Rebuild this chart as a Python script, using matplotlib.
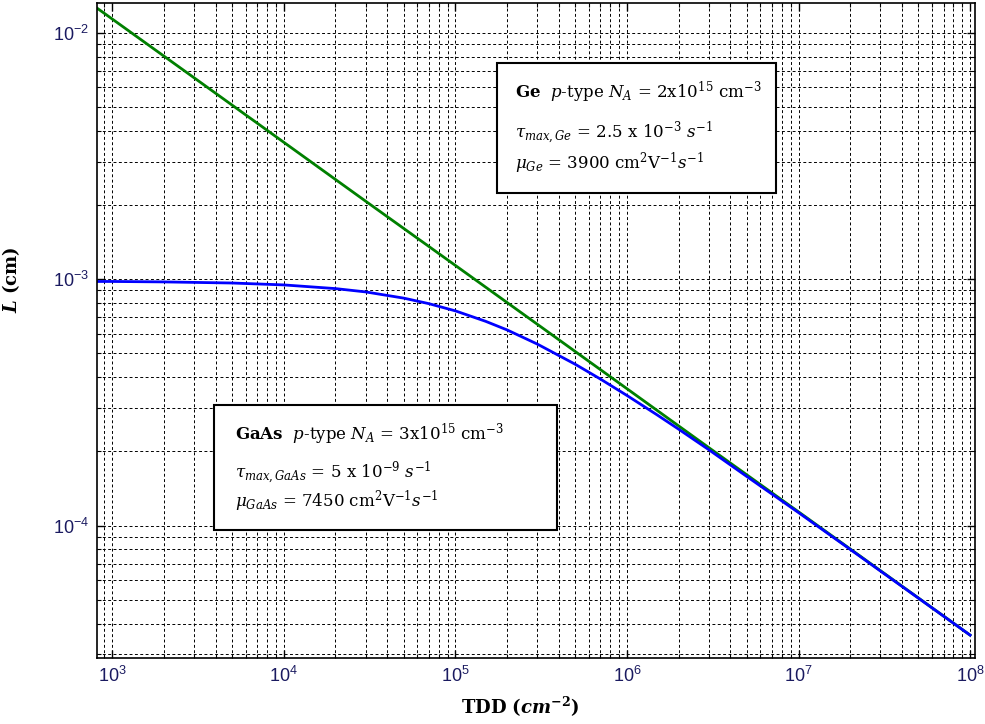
import numpy as np
import matplotlib
matplotlib.use("Agg")
import matplotlib.pyplot as plt
from matplotlib.ticker import FuncFormatter, NullFormatter, LogLocator
from matplotlib.patches import Rectangle

plt.rcParams['mathtext.fontset'] = 'dejavuserif'

# values
tdd_ge = [815, 1e3, 3e3, 1e4, 3e4, 1e5, 3e5, 1e6, 3e6, 1e7, 3e7, 1e8]
L_ge = [1.258e-2, 1.136e-2, 6.56e-3, 3.59e-3, 2.07e-3, 1.136e-3,
        6.56e-4, 3.59e-4, 2.07e-4, 1.136e-4, 6.56e-5, 3.59e-5]

tdd_gaas = [815, 1e3, 2e3, 5e3, 1e4, 2e4, 3e4, 5e4, 7e4, 1e5, 1.5e5, 2e5,
            3e5, 5e5, 7e5, 1e6, 1.5e6, 2e6, 3e6, 5e6, 1e7, 2e7, 5e7, 1e8]
L_gaas = [9.78e-4, 9.78e-4, 9.74e-4, 9.64e-4, 9.47e-4, 9.15e-4, 8.87e-4,
          8.37e-4, 7.95e-4, 7.43e-4, 6.74e-4, 6.22e-4, 5.45e-4, 4.51e-4,
          3.93e-4, 3.37e-4, 2.81e-4, 2.46e-4, 2.03e-4, 1.58e-4, 1.128e-4,
          8.0e-5, 5.07e-5, 3.59e-5]

xlim = (8.15e2, 1.07e8)
ylim = (2.9e-5, 1.32e-2)

fig = plt.figure(figsize=(9.85, 7.24), dpi=100)
ax = fig.add_axes([0.0985, 0.0912, 0.8915, 0.9047])

ax.plot(tdd_ge, L_ge, color='#008000', lw=2)
ax.plot(tdd_gaas, L_gaas, color='#0000ff', lw=2)

ax.set_xscale('log')
ax.set_yscale('log')
ax.set_xlim(*xlim)
ax.set_ylim(*ylim)

ax.grid(True, which='both', color='k', linewidth=0.7, linestyle=(0, (3, 2.5)))
ax.xaxis.set_minor_locator(LogLocator(base=10, subs=np.arange(2, 10)))
ax.yaxis.set_minor_locator(LogLocator(base=10, subs=np.arange(2, 10)))
fmt = FuncFormatter(lambda v, p: r'$\mathdefault{10^{%d}}$' % round(np.log10(v)))
ax.xaxis.set_major_formatter(fmt)
ax.yaxis.set_major_formatter(fmt)
ax.xaxis.set_minor_formatter(NullFormatter())
ax.yaxis.set_minor_formatter(NullFormatter())
ax.tick_params(which='both', direction='in', top=True, right=True,
               labelsize=13, labelcolor='#1a1a60', labelfontfamily='Liberation Sans')
ax.tick_params(which='major', length=6, width=1, pad=6)
ax.tick_params(which='minor', length=3, width=0.8)
for s in ax.spines.values():
    s.set_linewidth(1.2)

ax.set_xlabel(r'TDD ($\mathbfit{cm}^{\mathbf{-2}}$)', family='DejaVu Serif',
              fontweight='bold', fontsize=13)
ax.set_ylabel(r'$\mathbfit{L}$ (cm)', family='DejaVu Serif',
              fontweight='bold', fontsize=13)
ax.xaxis.set_label_coords(0.482, -0.056)
ax.yaxis.set_label_coords(-0.085, 0.577)

# text boxes (axes fraction)
tkw = dict(transform=ax.transAxes, family='DejaVu Serif', fontsize=12,
           va='center', ha='left', zorder=6)

ax.add_patch(Rectangle((0.4556, 0.710), 0.3177, 0.198, transform=ax.transAxes,
                       facecolor='white', edgecolor='k', lw=1.5, zorder=5))
ax.text(0.476, 0.864, r'$\mathbf{Ge}$  $p$-type $N_A$ = 2x10$^{15}$ cm$^{-3}$', **tkw)
ax.text(0.476, 0.801, r'$\tau_{max,Ge}$ = 2.5 x 10$^{-3}$ $s^{-1}$', **tkw)
ax.text(0.476, 0.755, r'$\mu_{Ge}$ = 3900 cm$^{2}$V$^{-1}$$s^{-1}$', **tkw)

ax.add_patch(Rectangle((0.1333, 0.1954), 0.3906, 0.1909, transform=ax.transAxes,
                       facecolor='white', edgecolor='k', lw=1.5, zorder=5))
ax.text(0.157, 0.341, r'$\mathbf{GaAs}$  $p$-type $N_A$ = 3x10$^{15}$ cm$^{-3}$', **tkw)
ax.text(0.157, 0.283, r'$\tau_{max,GaAs}$ = 5 x 10$^{-9}$ $s^{-1}$', **tkw)
ax.text(0.157, 0.239, r'$\mu_{GaAs}$ = 7450 cm$^{2}$V$^{-1}$$s^{-1}$', **tkw)

fig.savefig('out.png', dpi=100)
